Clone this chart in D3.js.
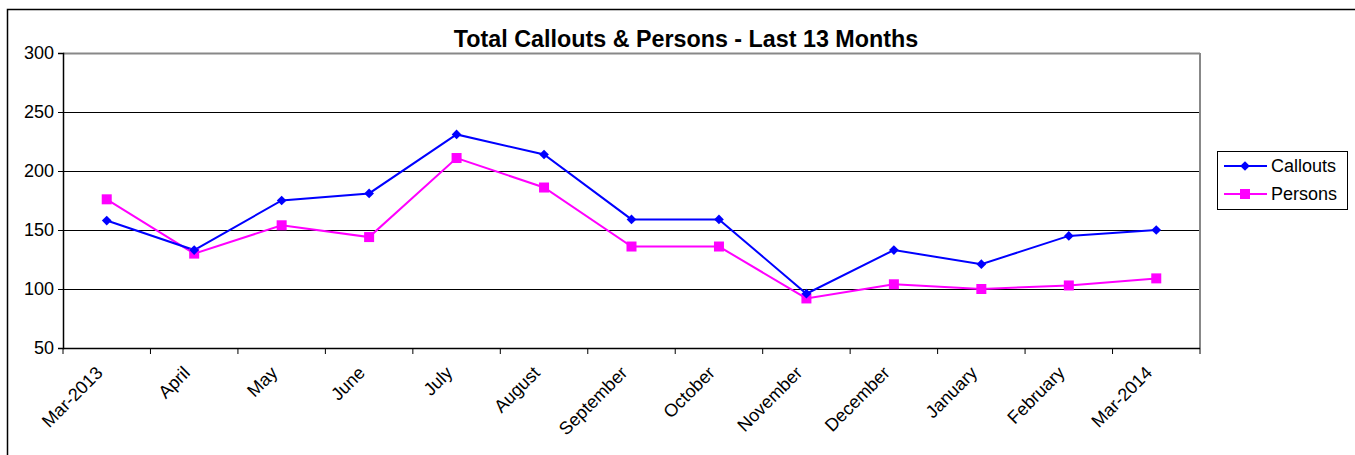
<!DOCTYPE html>
<html>
<head>
<meta charset="utf-8">
<script src="https://cdn.jsdelivr.net/npm/d3@7"></script>
<style>
body { margin: 0; background: #fff; }
svg { display: block; font-family: Arial, "Liberation Sans", sans-serif; }
</style>
</head>
<body>
<div id="chart"></div>
<script>
var months = ["Mar-2013", "April", "May", "June", "July", "August", "September",
              "October", "November", "December", "January", "February", "Mar-2014"];
var callouts = [158, 133, 175, 181, 231, 214, 159, 159, 96, 133, 121, 145, 150];
var persons = [176, 130, 154, 144, 211, 186, 136, 136, 92, 104, 100, 103, 109];
var yTicks = [50, 100, 150, 200, 250, 300];

var svgwidth = 1355;
var svgheight = 455;
var margin = { top: 53, left: 63, right: 155, bottom: 107 };
var width = svgwidth - margin.left - margin.right;
var height = svgheight - margin.top - margin.bottom;

var svg = d3.select("#chart").append("svg").attr("width", svgwidth).attr("height", svgheight);

// outer chart frame
svg.append("rect").attr("x", 7.5).attr("y", 9.5).attr("width", 1360).attr("height", 460)
    .attr("fill", "none").attr("stroke", "#000").attr("stroke-width", 1.5);

svg.append("text").attr("x", 686).attr("y", 47).attr("text-anchor", "middle")
    .attr("font-size", 23.3).attr("font-weight", "bold").text("Total Callouts & Persons - Last 13 Months");

var chartGroup = svg.append("g").attr("transform", `translate(${margin.left}, ${margin.top})`);

var x = d3.scaleBand().domain(months).range([0, width]);
var y = d3.scaleLinear().domain([50, 300]).range([height, 0]);

// gridlines
chartGroup.append("g").selectAll("line").data(yTicks.slice(1)).enter().append("line")
    .attr("x1", 0).attr("x2", width)
    .attr("y1", d => y(d) + 0.5).attr("y2", d => y(d) + 0.5)
    .attr("stroke", d => d == 300 ? "#888" : "#000").attr("stroke-width", d => d == 300 ? 2 : 1);

// right plot border
chartGroup.append("line").attr("x1", width).attr("x2", width).attr("y1", 0).attr("y2", height)
    .attr("stroke", "#888").attr("stroke-width", 2);

var leftAxis = d3.axisLeft(y).tickValues(yTicks).tickSize(5).tickPadding(4);
var gy = chartGroup.append("g").call(leftAxis);
gy.select(".domain").attr("stroke-width", 1.5);
gy.selectAll("text").attr("font-size", 18).attr("fill", "#000").attr("font-family", "Arial, 'Liberation Sans', sans-serif");

// x axis with ticks between categories
var gx = chartGroup.append("g").attr("transform", `translate(0, ${height})`);
gx.append("line").attr("x1", 0).attr("x2", width).attr("y1", 0.5).attr("y2", 0.5)
    .attr("stroke", "#000").attr("stroke-width", 1.5);
var edges = months.map(m => x(m)).concat([width]);
gx.selectAll(".tk").data(edges).enter().append("line").attr("class", "tk")
    .attr("x1", d => d).attr("x2", d => d).attr("y1", 0).attr("y2", 6).attr("stroke", "#000");
gx.selectAll(".lbl").data(months).enter().append("text").attr("class", "lbl")
    .attr("text-anchor", "end").attr("font-size", 18)
    .attr("transform", d => `translate(${x(d) + x.bandwidth() / 2 - 3}, 26) rotate(-45)`)
    .text(d => d);

var cx = (d, i) => x(months[i]) + x.bandwidth() / 2;
var line = d3.line().x((d, i) => cx(d, i)).y(d => y(d));

chartGroup.append("path").datum(persons).attr("d", line)
    .attr("fill", "none").attr("stroke", "#ff00ff").attr("stroke-width", 2);
chartGroup.append("path").datum(callouts).attr("d", line)
    .attr("fill", "none").attr("stroke", "#0000ff").attr("stroke-width", 2);

chartGroup.selectAll(".pm").data(persons).enter().append("rect").attr("class", "pm")
    .attr("x", (d, i) => cx(d, i) - 5).attr("y", d => y(d) - 5)
    .attr("width", 10).attr("height", 10).attr("fill", "#ff00ff");
var diamond = d3.symbol().type(d3.symbolDiamond2).size(60);
chartGroup.selectAll(".cm").data(callouts).enter().append("path").attr("class", "cm")
    .attr("d", diamond)
    .attr("transform", (d, i) => `translate(${cx(d, i)}, ${y(d)})`)
    .attr("fill", "#0000ff");

// legend
var legend = svg.append("g").attr("transform", "translate(1217, 151)");
legend.append("rect").attr("x", 0.5).attr("y", 0.5).attr("width", 130).attr("height", 58)
    .attr("fill", "#fff").attr("stroke", "#000");
var series = [{ name: "Callouts", color: "#0000ff" }, { name: "Persons", color: "#ff00ff" }];
series.forEach(function (s, i) {
    var ly = 15 + i * 28;
    legend.append("line").attr("x1", 7).attr("x2", 50).attr("y1", ly).attr("y2", ly)
        .attr("stroke", s.color).attr("stroke-width", 2);
    if (i == 0) {
        legend.append("path").attr("d", diamond).attr("transform", `translate(28, ${ly})`).attr("fill", s.color);
    } else {
        legend.append("rect").attr("x", 23).attr("y", ly - 5).attr("width", 10).attr("height", 10).attr("fill", s.color);
    }
    legend.append("text").attr("x", 54).attr("y", ly + 6).attr("font-size", 18).text(s.name);
});
</script>
</body>
</html>
